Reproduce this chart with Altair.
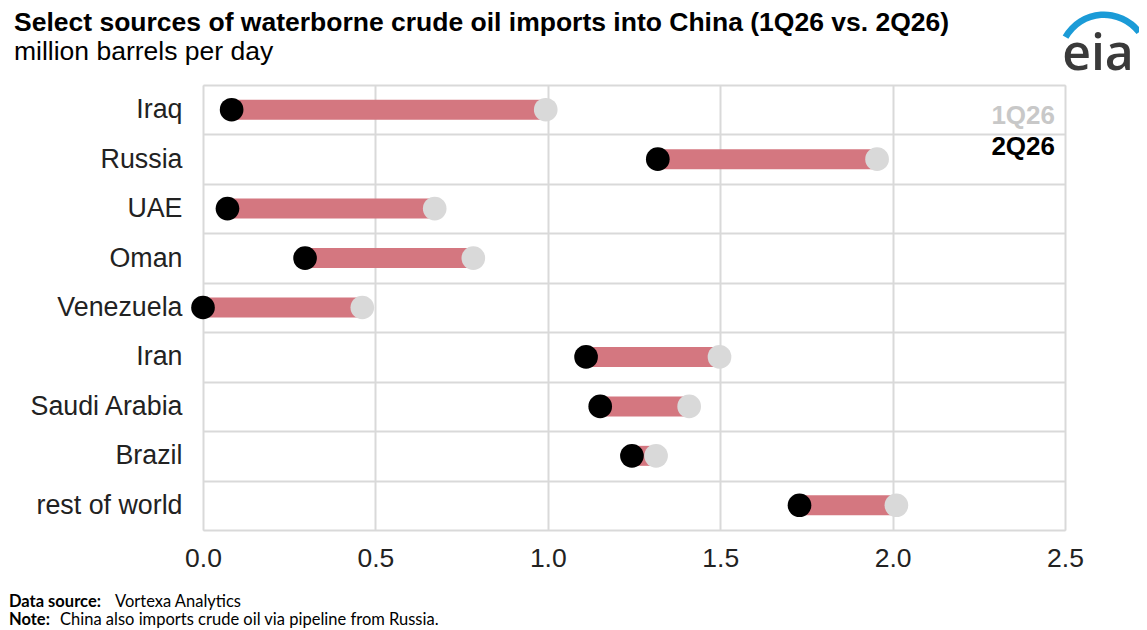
import altair as alt
import pandas as pd

# ---- data ----
countries = ["Iraq", "Russia", "UAE", "Oman", "Venezuela", "Iran",
             "Saudi Arabia", "Brazil", "rest of world"]
q1_2026 = [0.994, 1.955, 0.672, 0.784, 0.462, 1.498, 1.410, 1.314, 2.011]
q2_2026 = [0.083, 1.319, 0.071, 0.296, 0.000, 1.111, 1.152, 1.244, 1.730]
periods = ["1Q26", "2Q26"]
x_ticks = [0.0, 0.5, 1.0, 1.5, 2.0, 2.5]

title_text = "Select sources of waterborne crude oil imports into China (1Q26 vs. 2Q26)"
subtitle_text = "million barrels per day"
source_label = "Data source:"
source_text = "Vortexa Analytics"
note_label = "Note:"
note_text = "China also imports crude oil via pipeline from Russia."
logo_text = "eia"

FONT = "Liberation Sans"
FOOT_FONT = "Lato"
GRID = "#d9d9d9"
BAR = "#d47780"
GRAY_DOT = "#d9d9d9"

wide = pd.DataFrame({"country": countries, "q1": q1_2026, "q2": q2_2026})
q1_df = pd.DataFrame({"country": countries, "value": q1_2026, "period": periods[0]})
q2_df = pd.DataFrame({"country": countries, "value": q2_2026, "period": periods[1]})

xscale = alt.Scale(domain=[0, 2.5], nice=False)
yscale = alt.Scale(domain=countries, paddingInner=0, paddingOuter=0)

x_axis = alt.Axis(title=None, values=x_ticks, format=".1f", labelFontSize=26.5,
                  labelFont=FONT, labelColor="#222222", labelPadding=15,
                  labelFlush=False, ticks=False, domain=False, grid=True,
                  gridColor=GRID, gridWidth=2)
y_axis = alt.Axis(title=None, labelFontSize=26.8, labelFont=FONT, labelColor="#222222",
                  labelPadding=21, ticks=False, domain=False, grid=True,
                  tickBand="extent", gridColor=GRID, gridWidth=2)

Y = alt.Y("country:N", sort=countries, scale=yscale, axis=y_axis)

rule = alt.Chart(wide).mark_rule(strokeWidth=20, color=BAR, strokeCap="butt").encode(
    x=alt.X("q2:Q", scale=xscale, axis=x_axis),
    x2="q1:Q",
    y=Y,
)

dots_q1 = alt.Chart(q1_df).mark_circle(size=560, opacity=1, color=GRAY_DOT).encode(
    x=alt.X("value:Q", scale=xscale), y=alt.Y("country:N", sort=countries, scale=yscale)
)
dots_q2 = alt.Chart(q2_df).mark_circle(size=560, opacity=1, color="#000000").encode(
    x=alt.X("value:Q", scale=xscale), y=alt.Y("country:N", sort=countries, scale=yscale)
)


def txt(s, x, y, size, weight="normal", color="#000000", align="left", font=FONT):
    return alt.Chart(pd.DataFrame({"t": [s]})).mark_text(
        align=align, baseline="alphabetic", fontSize=size, fontWeight=weight,
        color=color, font=font
    ).encode(text="t:N", x=alt.value(x), y=alt.value(y))


legend1 = txt(periods[0], 852, 39, 26, "bold", "#c8c8c8", "right")
legend2 = txt(periods[1], 852, 70, 26, "bold", "#000000", "right")

title = txt(title_text, -189, -54, 26.5, "bold")
subtitle = txt(subtitle_text, -189, -25, 26.5)

foot1a = txt(source_label, -194, 521.5, 16.5, "bold", "#000000", "left", FOOT_FONT)
foot1b = txt(source_text, -88, 521.5, 16.5, "normal", "#000000", "left", FOOT_FONT)
foot2a = txt(note_label, -194, 540, 16.5, "bold", "#000000", "left", FOOT_FONT)
foot2b = txt(note_text, -143, 540, 16.5, "normal", "#000000", "left", FOOT_FONT)

logo = txt(logo_text, 895, -15, 50, 600, "#3a3a3a", "center", "Open Sans")
swoosh = alt.Chart(pd.DataFrame({"a": [0]})).mark_arc(
    radius=47.5, radius2=41, theta=5.23, theta2=7.2, color="#1b9bd7"
).encode(x=alt.value(901), y=alt.value(-26))

chart = alt.layer(
    rule, dots_q1, dots_q2, legend1, legend2, title, subtitle,
    foot1a, foot1b, foot2a, foot2b, swoosh, logo
).properties(
    width=862, height=445,
    autosize=alt.AutoSizeParams(type="none"),
    padding={"left": 195, "top": 77, "right": 74, "bottom": 100},
).configure_view(stroke=GRID, strokeWidth=2).configure(background="white")

chart.save("out.html", embed_options={"renderer": "svg", "actions": False})
